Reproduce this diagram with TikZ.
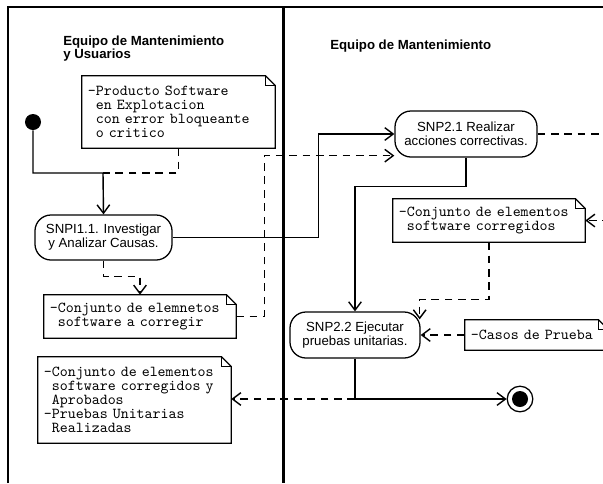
\documentclass[tikz,border=0pt]{standalone}
\usepackage{fontspec}
\setsansfont{Liberation Sans}
\usetikzlibrary{arrows.meta}
\tikzset{
    >={Straight Barb[length=6pt,width=9pt]},
    marco/.style={line width=1.4pt},
    carril/.style={line width=2.2pt},
    titulo/.style={font=\sffamily\bfseries\fontsize{9.4}{9.4}\selectfont, align=left, inner sep=0pt},
    actividad/.style={draw, line width=0.9pt, rounded corners=0.4cm, font=\sffamily\fontsize{9.4}{10}\selectfont, align=center, inner sep=0pt},
    nota/.style={font=\ttfamily\fontsize{10.8}{10}\selectfont, align=left, inner xsep=0.15cm, inner ysep=0pt},
    notaborde/.style={line width=0.9pt, line join=miter},
    flujo/.style={line width=1pt},
    objeto/.style={flujo, dash pattern=on 5.5pt off 4pt},
    inicio/.style={shape=circle, fill=black, minimum size=0.4cm, inner sep=0pt},
    final/.style={shape=circle, draw, line width=0.9pt, minimum size=0.64cm, inner sep=0pt},
}
\newcommand\sangria{\hphantom{-}}

\begin{document}
\begin{tikzpicture}[x=0.025cm, y=-0.025cm]
    \useasboundingbox (0,0) rectangle (603,483);
    \draw[marco] (8,483) -- (8,7) -- (603,7);
    \draw[carril] (283.5,7) -- (283.5,483);
    \node[titulo, anchor=north west] (carril1) at (63,35.5) {Equipo de Mantenimiento\\y Usuarios};
    \node[titulo, anchor=north west] (carril2) at (330,40) {Equipo de Mantenimiento};
    \node[inicio] (ini) at (33,122) {};
    \node[final] (fin) at (520,399) {};
    \fill (fin.center) circle (0.2cm);
    \node[actividad, minimum width=3.425cm, minimum height=1.125cm] (a11) at (103.5,237.5) {SNPI1.1. Investigar\\y Analizar Causas.};
    \node[actividad, minimum width=3.55cm, minimum height=1.15cm] (a21) at (466,134) {SNP2.1 Realizar\\acciones correctivas.};
    \node[actividad, minimum width=3.25cm, minimum height=1.15cm] (a22) at (355,335) {SNP2.2 Ejecutar\\pruebas unitarias.};
    \node[nota, text width=4.525cm, minimum height=1.8cm] (nota1) at (178.5,112) {-Producto Software\\\sangria en Explotacion\\\sangria con error bloqueante\\\sangria o critico};
    \node[nota, text width=4.5cm, minimum height=1.075cm] (nota2) at (140,316.5) {-Conjunto de elemnetos\\\sangria software a corregir};
    \node[nota, text width=4.5cm, minimum height=1.075cm] (nota3) at (489,220.5) {-Conjunto de elementos\\\sangria software corregidos};
    \node[nota, text width=3.275cm, minimum height=0.75cm] (nota4) at (536.5,335) {-Casos de Prueba};
    \node[nota, text width=4.525cm, minimum height=2.15cm] (nota5) at (134.5,400) {-Conjunto de elementos\\\sangria software corregidos y\\\sangria Aprobados\\-Pruebas Unitarias\\\sangria Realizadas};
    \foreach \i in {1,...,5} {
        \draw[notaborde] (nota\i.south west) -- (nota\i.north west) -- ([xshift=-7pt]nota\i.north east)
            -- ([yshift=-7pt]nota\i.north east) -- (nota\i.south east) -- cycle;
        \draw[notaborde] ([xshift=-7pt]nota\i.north east) |- ([yshift=-7pt]nota\i.north east);
    };
    \coordinate (j1) at (103,173);
    \coordinate (borde1) at (610,134);
    \coordinate (borde2) at (610,220.5);
    \coordinate (j2) at (a22.south |- fin);
    \draw[flujo, ->] (ini) |- (j1) -- (a11.north);
    \draw[objeto] (nota1.south) |- (j1);
    \draw[flujo, ->] (a11.east) -- ++(146,0) |- (a21.west);
    \draw[objeto, ->] (a11.south) -- ++(0,16) -| (nota2.north);
    \draw[objeto, ->] (nota2.east) -- ++(28,0) |- ([shift={(0,-2)}]a21.south west);
    \draw[flujo, ->] (a21.south) -- ++(0,29) -| (a22.north);
    \draw[objeto] (a21.east) -- (borde1);
    \draw[objeto, ->] (borde2) -- (nota3.east);
    \draw[objeto, ->] (nota3.south) -- ++(0,57) -| ([shift={(-1,8)}]a22.north east);
    \draw[objeto, ->] (nota4.west) -- (a22.east);
    \draw[flujo, ->] (a22.south) |- (fin);
    \draw[objeto, ->] (j2) -- (j2 -| nota5.east);
\end{tikzpicture}
\end{document}
